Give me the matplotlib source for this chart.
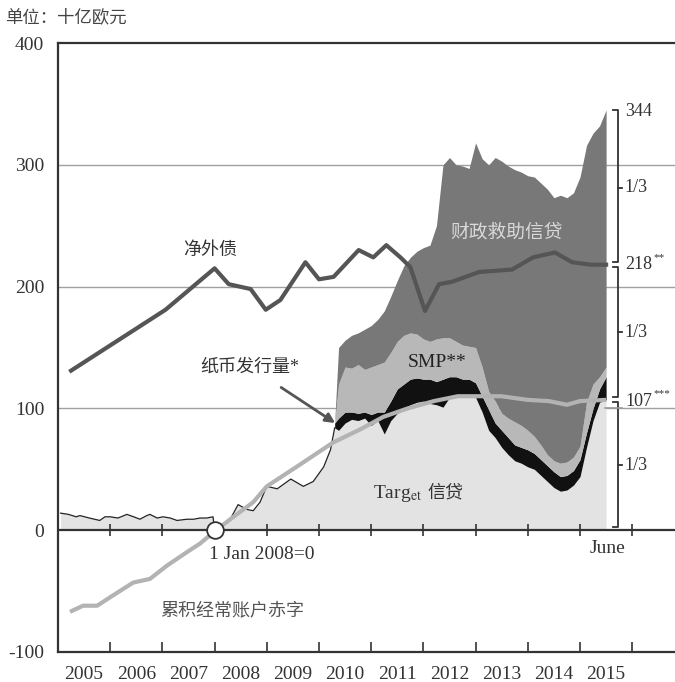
import numpy as np
import matplotlib
matplotlib.use("Agg")
import matplotlib.pyplot as plt

plt.rcParams["font.family"] = ["Liberation Serif", "Noto Sans CJK SC"]
plt.rcParams["axes.unicode_minus"] = False
plt.rcParams["mathtext.fontset"] = "stix"

# === data (billion euro) ===
years = list(range(2005, 2016))

# Target credit, whole period (top of the light fill)
target_t = [2005.05, 2005.2, 2005.35, 2005.42, 2005.6, 2005.8, 2005.9, 2006.0,
            2006.15, 2006.32, 2006.45, 2006.57, 2006.7, 2006.76, 2006.9, 2007.01,
            2007.15, 2007.28, 2007.47, 2007.6, 2007.72, 2007.85, 2007.97, 2008.0,
            2008.3, 2008.45, 2008.62, 2008.74, 2008.87, 2009.0, 2009.2, 2009.46,
            2009.7, 2009.89, 2010.09, 2010.22,
            2010.3, 2010.375, 2010.5, 2010.625, 2010.75, 2010.875, 2011.0, 2011.125,
            2011.25, 2011.375, 2011.5, 2011.625, 2011.75, 2011.875, 2012.0, 2012.125,
            2012.25, 2012.375, 2012.5, 2012.625, 2012.75, 2012.875, 2013.0, 2013.125,
            2013.25, 2013.375, 2013.5, 2013.625, 2013.75, 2013.875, 2014.0, 2014.125,
            2014.25, 2014.375, 2014.5, 2014.625, 2014.75, 2014.875, 2015.0, 2015.125,
            2015.25, 2015.375, 2015.5]
target_v = [14, 13, 11, 12, 10, 8, 11, 11,
            10, 13, 11, 9, 12, 13, 10, 11,
            10, 8, 9, 9, 10, 10, 11, 0,
            9, 21, 17, 16, 23, 36, 34, 42,
            36, 40, 52, 66,
            84, 82, 88, 91, 90, 92, 86, 90,
            79, 90, 96, 100, 103, 105, 106, 104,
            103, 101, 109, 109, 110, 110, 109, 97,
            82, 76, 68, 62, 57, 55, 52, 50,
            45, 40, 35, 32, 33, 37, 44, 68,
            90, 105, 107]

# stacked layers from May 2010 (cumulative tops on the same dates)
other_top = [88, 92, 97, 97, 96, 97, 95, 97,
             97, 106, 116, 120, 124, 125, 124, 124,
             122, 124, 126, 126, 124, 124, 121, 110,
             99, 88, 82, 76, 70, 68, 66, 63,
             58, 53, 48, 44, 45, 49, 58, 80,
             100, 116, 126]
smp_top = [88, 120, 134, 133, 136, 132, 134, 136,
           138, 146, 155, 160, 162, 161, 157, 155,
           157, 158, 158, 155, 152, 151, 150, 134,
           114, 106, 96, 92, 89, 86, 82, 77,
           70, 62, 57, 55, 56, 60, 69, 105,
           120, 126, 134]
total_top = [88, 150, 156, 160, 162, 165, 168, 173,
             180, 192, 205, 217, 224, 229, 232, 234,
             250, 300, 306, 300, 299, 297, 318, 305,
             300, 306, 303, 299, 296, 294, 291, 290,
             285, 280, 273, 275, 273, 277, 290, 316,
             326, 332, 345]

# net external debt
debt_t = [2005.25, 2007.06, 2008.0, 2008.27, 2008.69, 2008.98, 2009.26, 2009.74,
          2010.0, 2010.28, 2010.76, 2011.04, 2011.29, 2011.56, 2011.75, 2012.03,
          2012.3, 2012.55, 2013.07, 2013.7, 2014.1, 2014.52, 2014.85, 2015.2, 2015.5]
debt_v = [131, 181, 215, 202, 198, 181, 189, 220,
          206, 208, 230, 224, 234, 224, 216, 180,
          202, 204, 212, 214, 224, 228, 220, 218, 218]

# currency issued / cumulated current account deficit
cur_t = [2005.23, 2005.48, 2005.75, 2006.0, 2006.44, 2006.76, 2007.09, 2007.47,
         2007.72, 2007.97, 2008.3, 2008.74, 2009.0, 2009.64, 2010.27, 2010.8,
         2011.23, 2011.7, 2012.2, 2012.66, 2013.49, 2014.0, 2014.4, 2014.75,
         2015.0, 2015.5]
cur_v = [-67, -62, -62, -55, -43, -40, -29, -18,
         -11, -2, 9, 23, 36, 54, 72, 83,
         93, 100, 106, 110, 110, 107, 106, 103,
         106, 107]

bracket_levels = [0, 107, 218, 344]

# === figure ===
fig = plt.figure(figsize=(6.75, 6.82), dpi=100)
ax = fig.add_axes([58 / 675, 1 - 652 / 682, 1 - 58 / 675, 609 / 682])
ax.set_xlim(2005, 2005 + 617 / 52.2)
ax.set_ylim(-100, 400)

dark = "#333333"
target_t = np.array(target_t)
target_v = np.array(target_v)
stack = target_t >= 2010.3
st = target_t[stack]

for g in (100, 200, 300):
    ax.axhline(g, color="#a0a0a0", lw=1.0, zorder=0.5)

ax.fill_between(target_t, 0, target_v, color="#e3e3e3", lw=0, zorder=1)
ax.fill_between(st, target_v[stack], other_top, color="#111111", lw=0, zorder=1.2)
ax.fill_between(st, other_top, smp_top, color="#b8b8b8", lw=0, zorder=1.2)
ax.fill_between(st, smp_top, total_top, color="#787878", lw=0, zorder=1.2)

pre = target_t <= 2010.3
ax.plot(target_t[pre], target_v[pre], color="#222222", lw=0.9, zorder=3)

ax.plot(cur_t, cur_v, color="#b3b3b3", lw=3.0, zorder=4, solid_capstyle="butt")
ax.plot(debt_t, debt_v, color="#555555", lw=3.0, zorder=5)
ax.plot(2008, 0, "o", ms=12, mfc="white", mec=dark, mew=1.3, zorder=7, clip_on=False)

# axes, zero line and ticks
ax.axhline(0, color=dark, lw=1.6, zorder=6)
ax.vlines(years[1:] + [2016], -5, 5, color=dark, lw=1.2, zorder=6)
for s in ("left", "top", "bottom"):
    ax.spines[s].set_color(dark)
    ax.spines[s].set_linewidth(1.6)
ax.spines["right"].set_visible(False)

ax.set_xticks(years[1:] + [2016])
ax.set_xticklabels([])
ax.tick_params(axis="x", which="major", direction="in", length=7, width=1.2, color=dark)
ax.set_xticks([y + 0.5 for y in years], minor=True)
ax.set_xticklabels([str(y) for y in years], minor=True, fontsize=14, color=dark)
ax.tick_params(axis="x", which="minor", length=0, pad=10)

ax.set_yticks([-100, 0, 100, 200, 300, 400])
ax.set_yticklabels(["-100", "0", "100", "200", "300", "400"], fontsize=14, color=dark)
ax.tick_params(axis="y", length=0, pad=10)

# right-hand bracket
bx, hook, tk = 2015.73, 0.10, 0.08
gaps = [2.5, 2, 2]
for i in range(3):
    lo = bracket_levels[i] + gaps[i]
    hi = bracket_levels[i + 1] - (1.5 if i < 2 else -1)
    ax.plot([bx - hook, bx, bx, bx - hook], [lo, lo, hi, hi], color=dark, lw=1.3, zorder=6)
    mid = (bracket_levels[i] + bracket_levels[i + 1]) / 2
    ax.plot([bx, bx + tk], [mid, mid], color=dark, lw=1.3, zorder=6)
    ax.text(bx + 0.13, mid, "1/3", fontsize=13, color=dark, va="center", ha="left")
ax.plot([2015.48, 2015.8], [100, 100], color="#999999", lw=1.2, zorder=6)
lx = 2015.87
ax.text(lx, 344, "344", fontsize=13, color=dark, va="center")
ax.text(lx, 218, "218", fontsize=13, color=dark, va="center")
ax.text(lx + 0.53, 224, "**", fontsize=8, color=dark, va="center")
ax.text(lx, 106, "107", fontsize=13, color=dark, va="center")
ax.text(lx + 0.53, 112, "***", fontsize=8, color=dark, va="center")

# labels
ax.text(2007.91, 230, "净外债", fontsize=13, color=dark, ha="center", va="center")
ax.text(2013.6, 244, "财政救助信贷", fontsize=13.5, color="#d9d9d9", ha="center", va="center")
ax.text(2012.26, 138, "SMP**", fontsize=14, color="#222222", ha="center", va="center")
ax.text(2011.97, 30, r"Targ$_{\mathrm{et}}$", fontsize=14, color=dark, ha="right", va="center")
ax.text(2012.07, 31, "信贷", fontsize=13, color=dark, ha="left", va="center")
ax.text(2008.9, -20, "1 Jan 2008=0", fontsize=14, color=dark, ha="center", va="center")
ax.text(2008.33, -66, "累积经常账户赤字", fontsize=13, color="#555555", ha="center", va="center")
ax.text(2015.53, -15, "June", fontsize=14, color=dark, ha="center", va="center")
ax.annotate("纸币发行量*", xy=(2010.31, 88), xytext=(2008.68, 134),
            fontsize=13, color=dark, ha="center", va="center",
            arrowprops=dict(arrowstyle="-|>", color="#555555", lw=2.0,
                            shrinkA=12, shrinkB=0, mutation_scale=14))

fig.text(0.007, 1 - 18 / 682, "单位：十亿欧元", fontsize=12.5, color="#444444",
         ha="left", va="center")

fig.savefig("out.png", dpi=100, facecolor="white")
